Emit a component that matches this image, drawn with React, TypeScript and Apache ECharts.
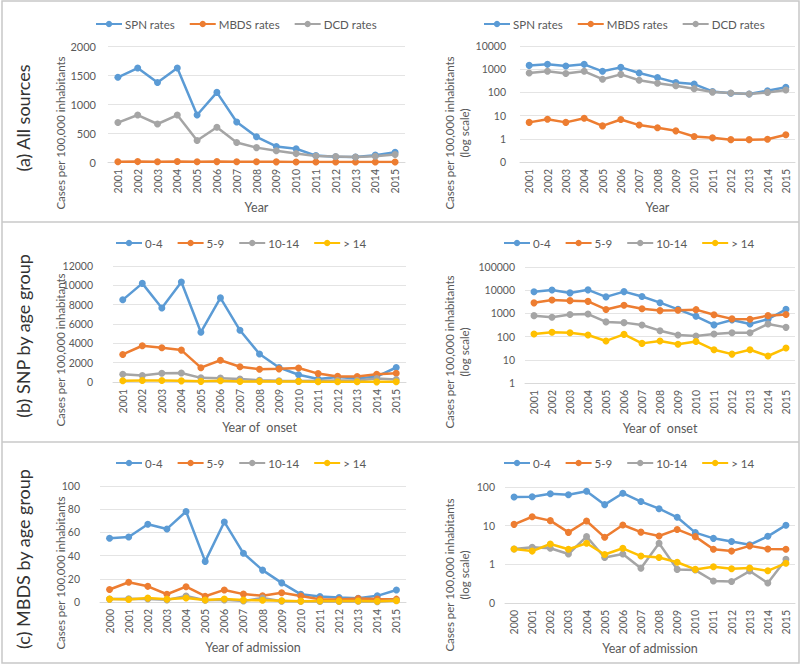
import React, { useEffect, useRef } from "react";
import * as echarts from "echarts";

const years01 = ["2001","2002","2003","2004","2005","2006","2007","2008","2009","2010","2011","2012","2013","2014","2015"];
const years00 = ["2000", ...years01];

const spnRates = [1460, 1620, 1370, 1620, 810, 1200, 690, 435, 268, 228, 110, 92, 85, 118, 167];
const mbdsRates = [5.1, 7.0, 5.1, 7.7, 3.6, 6.8, 3.9, 3.0, 2.2, 1.25, 1.1, 0.92, 0.92, 0.95, 1.5];
const dcdRates = [680, 810, 655, 810, 370, 600, 335, 248, 195, 145, 103, 95, 85, 100, 128];

const snp04 = [8500, 10200, 7650, 10350, 5150, 8700, 5350, 2900, 1500, 750, 320, 520, 350, 560, 1500];
const snp59 = [2850, 3750, 3550, 3300, 1480, 2250, 1580, 1320, 1360, 1450, 870, 580, 560, 800, 900];
const snp1014 = [800, 680, 900, 940, 430, 400, 316, 180, 117, 106, 130, 147, 147, 350, 250];
const snp14 = [130, 153, 147, 117, 65, 125, 51, 65, 47, 62, 27, 17.6, 27, 14.6, 32];

const mbds04 = [55, 56, 67, 63, 78, 35, 69, 42, 27.5, 16.5, 6.6, 4.7, 3.9, 3.2, 5.3, 10.3];
const mbds59 = [10.8, 17, 13.5, 6.7, 13.2, 5, 10.4, 6.8, 5.4, 8, 5.2, 2.45, 2.2, 3, 2.5, 2.45];
const mbds1014 = [2.5, 2.75, 2.6, 1.85, 5.2, 1.5, 1.85, 0.79, 3.5, 0.74, 0.71, 0.37, 0.36, 0.67, 0.33, 1.35];
const mbds14 = [2.5, 2.2, 3.35, 2.45, 3.5, 1.8, 2.6, 1.64, 1.5, 1.13, 0.74, 0.87, 0.77, 0.8, 0.68, 1.07];

const sourceNames = ["SPN rates", "MBDS rates", "DCD rates"];
const ageNames = ["0-4", "5-9", "10-14", "> 14"];
const rowLabels = ["(a) All sources", "(b) SNP by age group", "(c) MBDS by age group"];
const xNames = ["Year", "Year of  onset", "Year of admission"];
const yTitle = "Cases per 100,000 inhabitants";
const yTitleLog = "Cases per 100,000 inhabitants\n(log scale)";

const COLORS = ["#5B9BD5", "#ED7D31", "#A5A5A5", "#FFC000"];
const FONT = "Lato";
const LABEL = "#595959";

const grids = [
  { left: 108, width: 297, top: 46, height: 116 },
  { left: 520, width: 275, top: 46, height: 116 },
  { left: 113, width: 293, top: 266, height: 116 },
  { left: 525, width: 270, top: 267, height: 116 },
  { left: 100, width: 306, top: 486, height: 116 },
  { left: 505, width: 290, top: 487, height: 116 },
];

function App() {
  const ref = useRef<HTMLDivElement>(null);
  useEffect(() => {
    if (!ref.current) return;
    const chart = echarts.init(ref.current, null, { renderer: "svg" });

    const xAxis = grids.map((g, i) => ({
      type: "category",
      gridIndex: i,
      data: i >= 4 ? years00 : years01,
      boundaryGap: true,
      axisLine: { show: true, lineStyle: { color: "#D9D9D9", width: 1 } },
      axisTick: { show: false },
      axisLabel: { rotate: 90, color: LABEL, fontSize: 10.5, fontFamily: FONT, margin: 7 },
      name: xNames[Math.floor(i / 2)],
      nameLocation: "middle",
      nameGap: 39,
      nameTextStyle: { color: LABEL, fontSize: 12.5, fontFamily: FONT },
      splitLine: { show: false },
    }));

    const logFmt = (v: number) => (v < 1 ? "0" : String(Math.round(v)));
    const linFmt = (v: number) => String(Math.round(v));
    const yBase = {
      axisLine: { show: false },
      axisTick: { show: false },
      splitLine: { show: true, lineStyle: { color: "#E4E4E4", width: 1 } },
    };
    const yAxis = [
      { ...yBase, type: "value", gridIndex: 0, min: 0, max: 2000, interval: 500,
        axisLabel: { color: LABEL, fontSize: 11, fontFamily: FONT, margin: 12, formatter: linFmt } },
      { ...yBase, type: "log", gridIndex: 1, min: 0.1, max: 10000, logBase: 10,
        axisLabel: { color: LABEL, fontSize: 10.5, fontFamily: FONT, margin: 14, formatter: logFmt } },
      { ...yBase, type: "value", gridIndex: 2, min: 0, max: 12000, interval: 2000,
        axisLabel: { color: LABEL, fontSize: 10.5, fontFamily: FONT, margin: 20, formatter: linFmt } },
      { ...yBase, type: "log", gridIndex: 3, min: 1, max: 100000, logBase: 10,
        axisLabel: { color: LABEL, fontSize: 10.5, fontFamily: FONT, margin: 10, formatter: logFmt } },
      { ...yBase, type: "value", gridIndex: 4, min: 0, max: 100, interval: 20,
        axisLabel: { color: LABEL, fontSize: 10.5, fontFamily: FONT, margin: 20, formatter: linFmt } },
      { ...yBase, type: "log", gridIndex: 5, min: 0.1, max: 100, logBase: 10,
        axisLabel: { color: LABEL, fontSize: 10.5, fontFamily: FONT, margin: 10, formatter: logFmt } },
    ];

    const mk = (name: string, data: number[], idx: number, colorIdx: number) => ({
      type: "line",
      name,
      data,
      xAxisIndex: idx,
      yAxisIndex: idx,
      symbol: "circle",
      symbolSize: 7,
      lineStyle: { width: 2.5, color: COLORS[colorIdx] },
      itemStyle: { color: COLORS[colorIdx] },
    });

    const series: any[] = [];
    for (const p of [0, 1]) {
      series.push(mk(sourceNames[0], spnRates, p, 0));
      series.push(mk(sourceNames[1], mbdsRates, p, 1));
      series.push(mk(sourceNames[2], dcdRates, p, 2));
    }
    const snp = [snp04, snp59, snp1014, snp14];
    const mb = [mbds04, mbds59, mbds1014, mbds14];
    for (const p of [2, 3]) snp.forEach((d, k) => series.push(mk(ageNames[k], d, p, k)));
    for (const p of [4, 5]) mb.forEach((d, k) => series.push(mk(ageNames[k], d, p, k)));

    const legendPos = [
      { left: 90, top: 13, data: sourceNames },
      { left: 478, top: 13, data: sourceNames },
      { left: 110, top: 232, data: ageNames },
      { left: 498, top: 232, data: ageNames },
      { left: 110, top: 452, data: ageNames },
      { left: 498, top: 452, data: ageNames },
    ];
    const legend = legendPos.map((l) => ({
      ...l,
      orient: "horizontal",
      itemWidth: 26,
      itemHeight: 8,
      itemGap: 14,
      selectedMode: false,
      textStyle: { color: LABEL, fontSize: 11.5, fontFamily: FONT, padding: [0, 0, 0, -2] },
    }));

    const rowCenters = [118, 336, 559];
    const yTitleCentersL = [133, 350, 573];
    const yTitleCentersR = [133, 352, 575];

    const graphic: any[] = [
      { type: "rect", shape: { x: 2, y: 1, width: 797, height: 662 },
        style: { fill: "none", stroke: "#C8C8C8", lineWidth: 1.5 }, silent: true },
      { type: "line", shape: { x1: 2, y1: 222, x2: 799, y2: 222 },
        style: { stroke: "#C8C8C8", lineWidth: 1.5 }, silent: true },
      { type: "line", shape: { x1: 2, y1: 442, x2: 799, y2: 442 },
        style: { stroke: "#C8C8C8", lineWidth: 1.5 }, silent: true },
    ];
    rowLabels.forEach((t, i) => {
      graphic.push({
        type: "text", x: 23, y: rowCenters[i], rotation: Math.PI / 2, silent: true,
        style: { text: t, fill: "#333333", font: `18px ${FONT}`, textAlign: "center", textVerticalAlign: "middle" },
      });
      graphic.push({
        type: "text", x: 60, y: yTitleCentersL[i], rotation: Math.PI / 2, silent: true,
        style: { text: yTitle, fill: LABEL, font: `11.5px ${FONT}`, textAlign: "center", textVerticalAlign: "middle" },
      });
      graphic.push({
        type: "text", x: 457, y: yTitleCentersR[i], rotation: Math.PI / 2, silent: true,
        style: { text: yTitleLog, fill: LABEL, font: `11.5px ${FONT}`, lineHeight: 15, textAlign: "center", textVerticalAlign: "middle" },
      });
    });

    chart.setOption({
      animation: false,
      backgroundColor: "#FFFFFF",
      textStyle: { fontFamily: FONT },
      grid: grids,
      xAxis,
      yAxis,
      legend,
      series,
      graphic,
    });
    return () => chart.dispose();
  }, []);

  return (
    <div
      ref={ref}
      style={{ position: "fixed", left: 0, top: 0, width: 800, height: 666 }}
    />
  );
}

export default App;
